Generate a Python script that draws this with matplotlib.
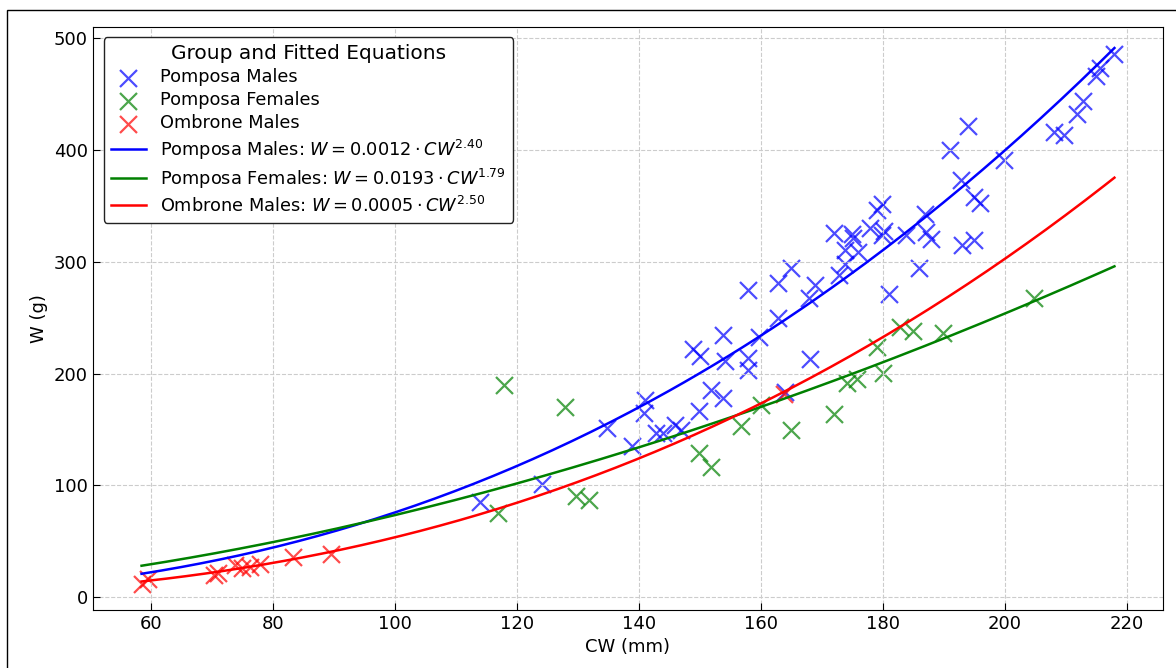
import numpy as np
import matplotlib.pyplot as plt
from matplotlib.patches import Rectangle

# Pomposa males
pm_cw = [114.0, 124.1, 134.8, 138.9, 140.9, 141.0, 142.9, 144.0, 145.9, 147.0,
         148.9, 150.0, 149.9, 151.9, 153.8, 153.8, 154.1, 157.9, 157.9, 158.0,
         159.8, 162.9, 162.9, 164.0, 165.0, 167.9, 168.1, 168.9, 172.1, 172.9,
         173.9, 173.9, 175.0, 175.2, 176.0, 177.9, 179.0, 179.9, 180.2, 179.9,
         181.0, 183.9, 185.9, 186.9, 187.1, 188.0, 191.0, 192.9, 193.0, 194.0,
         194.9, 194.9, 196.0, 199.9, 208.1, 209.8, 211.8, 212.8, 215.0, 215.7,
         218.0]
pm_w = [84.8, 101.2, 151.3, 134.9, 164.8, 176.7, 146.9, 146.9, 154.3, 149.9,
        222.1, 216.1, 166.3, 185.1, 178.2, 234.9, 211.0, 214.0, 203.6, 275.3,
        232.8, 249.5, 280.7, 183.5, 294.3, 267.3, 213.4, 279.2, 326.1, 288.1,
        298.5, 310.4, 324.7, 321.5, 308.9, 330.0, 346.5, 352.0, 328.0, 324.0,
        271.2, 323.8, 294.9, 343.1, 326.7, 320.8, 400.1, 373.7, 314.8, 421.8,
        319.3, 357.9, 352.6, 391.2, 415.9, 413.8, 432.2, 444.1, 466.4, 473.3,
        485.7]

# Pomposa females
pf_cw = [116.9, 118.0, 127.9, 129.8, 131.9, 149.9, 151.9, 156.8, 160.0, 165.0,
         172.1, 174.1, 175.8, 179.0, 180.1, 182.9, 185.0, 189.9, 204.8]
pf_w = [75.2, 190.1, 170.1, 90.1, 87.2, 129.0, 116.4, 153.4, 172.0, 149.3,
        164.2, 191.6, 195.5, 223.9, 200.6, 241.8, 237.9, 236.4, 268.1]

# Ombrone males
om_cw = [58.5, 59.6, 70.3, 71.0, 73.9, 75.0, 76.2, 77.9, 83.3, 89.6, 163.8]
om_w = [12.0, 16.0, 20.0, 21.5, 29.0, 26.5, 27.4, 29.5, 35.8, 38.8, 182.0]

# fitted power laws W = a * CW^b
fit_a = [0.0012, 0.0193, 0.000535]
fit_b = [2.40, 1.79, 2.50]
fit_text = ['0.0012', '0.0193', '0.0005']
groups = ['Pomposa Males', 'Pomposa Females', 'Ombrone Males']
colors = ['blue', 'green', 'red']

fig = plt.figure(figsize=(11.76, 6.68), dpi=100)
ax = fig.add_axes([0.079, 0.087, 0.910, 0.873])

for cw, w, g, c in zip([pm_cw, pf_cw, om_cw], [pm_w, pf_w, om_w], groups, colors):
    ax.scatter(cw, w, marker='x', s=150, color=c, alpha=0.7, linewidths=1.6, label=g)

allcw = pm_cw + pf_cw + om_cw
xx = np.linspace(min(allcw), max(allcw), 200)
for a, b, t, g, c in zip(fit_a, fit_b, fit_text, groups, colors):
    ax.plot(xx, a * xx**b, color=c, lw=1.8,
            label=g + r': $W = ' + t + r' \cdot CW^{' + f'{b:.2f}' + '}$')

ax.set_ylim(-11.4, 510.5)
ax.set_xlabel('CW (mm)', fontsize=13)
ax.set_ylabel('W (g)', fontsize=13)
ax.tick_params(direction='in', labelsize=13, length=5)
ax.grid(True, linestyle='--', color='#cccccc', lw=0.8)
leg = ax.legend(title='Group and Fitted Equations', loc='upper left', fontsize=12.8,
                title_fontsize=14.5, frameon=True, framealpha=1, edgecolor='#222222',
                labelspacing=0.28, borderaxespad=0.6)
leg.get_frame().set_linewidth(1.0)

fig.add_artist(Rectangle((7 / 1176, -0.1), 2, 1.1 - 10 / 668, transform=fig.transFigure,
                         fill=False, ec='black', lw=1))

fig.savefig('out.png', dpi=100)
